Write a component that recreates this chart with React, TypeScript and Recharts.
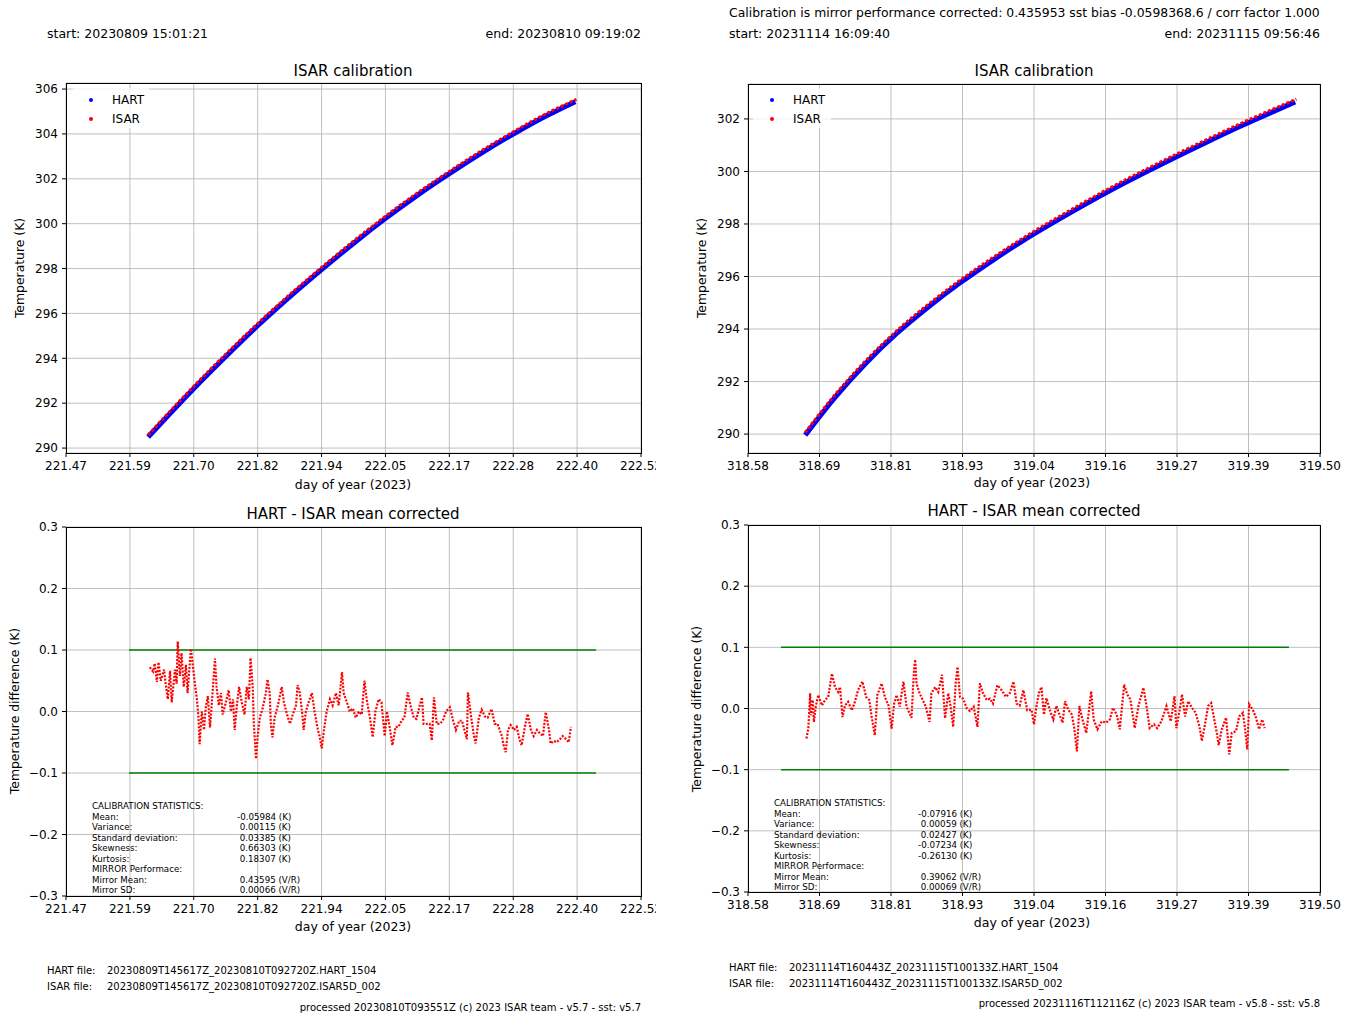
import React from "react";
import { ComposedChart, Line, XAxis, YAxis, CartesianGrid } from "recharts";

const FONT = "'DejaVu Sans', sans-serif";

// ---- left figure (2023-08-09) ----
const leftTicks = [221.47, 221.5867, 221.7033, 221.82, 221.9367, 222.0533, 222.17, 222.2867, 222.4033, 222.52];
const leftTickLabels = ["221.47", "221.59", "221.70", "221.82", "221.94", "222.05", "222.17", "222.28", "222.40", "222.52"];

const leftHartDay = [221.62, 221.66, 221.7, 221.76, 221.82, 221.88, 221.94, 222.0, 222.05, 222.11, 222.17, 222.23, 222.29, 222.35, 222.4];
const leftHartTemp = [290.49, 291.54, 292.57, 294.04, 295.45, 296.77, 298.02, 299.22, 300.17, 301.24, 302.23, 303.17, 304.04, 304.84, 305.44];
const leftIsarDay = [221.62, 221.66, 221.7, 221.76, 221.82, 221.88, 221.94, 222.0, 222.05, 222.11, 222.17, 222.23, 222.29, 222.35, 222.402];
const leftIsarTemp = [290.59, 291.64, 292.67, 294.14, 295.55, 296.87, 298.12, 299.32, 300.27, 301.34, 302.33, 303.27, 304.14, 304.94, 305.54];

const leftDiffDay = [
  221.623, 221.629, 221.632, 221.636, 221.639, 221.643, 221.649, 221.652, 221.656, 221.66,
  221.663, 221.669, 221.672, 221.674, 221.678, 221.681, 221.685, 221.689, 221.692, 221.698,
  221.701, 221.705, 221.709, 221.712, 221.714, 221.718, 221.722, 221.725, 221.729, 221.733,
  221.736, 221.742, 221.745, 221.749, 221.753, 221.756, 221.762, 221.767, 221.771, 221.775,
  221.778, 221.782, 221.786, 221.791, 221.796, 221.8, 221.804, 221.807, 221.811, 221.813,
  221.817, 221.82, 221.824, 221.829, 221.835, 221.838, 221.842, 221.844, 221.847, 221.851,
  221.857, 221.864, 221.868, 221.873, 221.879, 221.884, 221.89, 221.893, 221.897, 221.901,
  221.904, 221.908, 221.913, 221.919, 221.924, 221.93, 221.933, 221.937, 221.941, 221.946,
  221.952, 221.957, 221.963, 221.968, 221.974, 221.977, 221.983, 221.988, 221.994, 221.999,
  222.005, 222.01, 222.015, 222.019, 222.025, 222.03, 222.035, 222.041, 222.046, 222.052,
  222.056, 222.061, 222.066, 222.072, 222.077, 222.083, 222.088, 222.094, 222.099, 222.105,
  222.11, 222.116, 222.12, 222.123, 222.129, 222.134, 222.138, 222.142, 222.147, 222.153,
  222.158, 222.164, 222.171, 222.177, 222.182, 222.188, 222.193, 222.199, 222.202, 222.204,
  222.21, 222.215, 222.218, 222.224, 222.229, 222.235, 222.24, 222.247, 222.253, 222.258,
  222.266, 222.269, 222.273, 222.277, 222.282, 222.288, 222.293, 222.298, 222.302, 222.308,
  222.313, 222.319, 222.324, 222.33, 222.335, 222.341, 222.346, 222.352, 222.355, 222.361,
  222.366, 222.372, 222.377, 222.383, 222.388, 222.392,
];
const leftDiffVal = [
  0.072, 0.065, 0.078, 0.048, 0.08, 0.05, 0.068, 0.045, 0.02, 0.066,
  0.015, 0.068, 0.045, 0.114, 0.058, 0.095, 0.04, 0.076, 0.03, 0.102,
  0.08, 0.048, 0.02, -0.01, -0.053, 0.0, -0.03, 0.005, 0.025, -0.026,
  0.01, 0.086, 0.04, 0.01, 0.03, -0.005, 0.015, 0.035, 0.0, 0.02,
  -0.03, 0.01, 0.04, 0.015, -0.005, 0.04, 0.02, 0.087, 0.04, -0.02,
  -0.077, -0.04, -0.01, 0.005, 0.03, 0.052, 0.03, -0.02, -0.042, -0.01,
  0.01, 0.04, 0.015, -0.003, -0.02, -0.005, 0.01, 0.043, 0.03, 0.0,
  -0.03, 0.0, 0.015, 0.03, 0.0, -0.03, -0.04, -0.06, -0.03, 0.0,
  0.02, 0.01, 0.03, 0.01, 0.064, 0.03, 0.015, 0.0, 0.005, -0.01,
  0.0, -0.005, 0.05, 0.02, -0.01, -0.042, 0.0, 0.02, 0.015, -0.04,
  0.0, -0.025, -0.055, -0.025, -0.025, -0.015, -0.01, 0.031, 0.01, -0.01,
  -0.012, 0.01, 0.023, -0.02, -0.02, -0.02, -0.047, 0.023, -0.02, -0.02,
  -0.015, 0.0, 0.007, -0.015, -0.03, -0.015, -0.015, -0.035, -0.045, 0.031,
  -0.01, -0.04, -0.052, -0.01, 0.003, -0.008, -0.01, 0.004, -0.02, -0.02,
  -0.04, -0.055, -0.066, -0.03, -0.022, -0.03, -0.025, -0.045, -0.055, -0.025,
  -0.004, -0.03, -0.04, -0.03, -0.035, -0.04, -0.001, -0.03, -0.052, -0.048,
  -0.05, -0.045, -0.04, -0.045, -0.05, -0.025,
];
const leftLimitDay = [221.585, 222.438];
const leftStats = ["-0.05984 (K)", " 0.00115 (K)", " 0.03385 (K)", " 0.66303 (K)", " 0.18307 (K)", " 0.43595 (V/R)", " 0.00066 (V/R)"];

// ---- right figure (2023-11-14) ----
const rightTicks = [318.58, 318.695, 318.81, 318.925, 319.04, 319.155, 319.27, 319.385, 319.5];
const rightTickLabels = ["318.58", "318.69", "318.81", "318.93", "319.04", "319.16", "319.27", "319.39", "319.50"];

const rightHartDay = [318.672, 318.72, 318.77, 318.82, 318.87, 318.92, 318.97, 319.02, 319.07, 319.12, 319.17, 319.22, 319.27, 319.32, 319.37, 319.42, 319.46];
const rightHartTemp = [289.96, 291.4, 292.71, 293.85, 294.84, 295.74, 296.56, 297.33, 298.04, 298.72, 299.37, 299.98, 300.57, 301.14, 301.7, 302.23, 302.65];
const rightIsarDay = [318.672, 318.72, 318.77, 318.82, 318.87, 318.92, 318.97, 319.02, 319.07, 319.12, 319.17, 319.22, 319.27, 319.32, 319.37, 319.42, 319.462];
const rightIsarTemp = [290.06, 291.5, 292.81, 293.95, 294.94, 295.84, 296.66, 297.43, 298.14, 298.82, 299.47, 300.08, 300.67, 301.24, 301.8, 302.33, 302.75];

const rightDiffDay = [
  318.674, 318.677, 318.68, 318.681, 318.684, 318.686, 318.689, 318.693, 318.699, 318.704,
  318.709, 318.715, 318.72, 318.725, 318.728, 318.732, 318.736, 318.741, 318.747, 318.752,
  318.757, 318.764, 318.77, 318.775, 318.779, 318.784, 318.788, 318.795, 318.8, 318.806,
  318.811, 318.815, 318.819, 318.824, 318.83, 318.835, 318.843, 318.847, 318.849, 318.851,
  318.856, 318.861, 318.866, 318.872, 318.875, 318.881, 318.886, 318.892, 318.897, 318.902,
  318.906, 318.91, 318.914, 318.917, 318.921, 318.926, 318.932, 318.937, 318.943, 318.949,
  318.953, 318.958, 318.964, 318.969, 318.974, 318.981, 318.988, 318.995, 319.001, 319.007,
  319.012, 319.017, 319.023, 319.029, 319.036, 319.04, 319.044, 319.048, 319.052, 319.056,
  319.06, 319.066, 319.071, 319.076, 319.082, 319.086, 319.09, 319.095, 319.101, 319.105,
  319.109, 319.113, 319.118, 319.124, 319.128, 319.132, 319.136, 319.142, 319.149, 319.156,
  319.162, 319.167, 319.173, 319.178, 319.185, 319.19, 319.195, 319.202, 319.208, 319.216,
  319.221, 319.226, 319.233, 319.238, 319.245, 319.253, 319.26, 319.266, 319.269, 319.274,
  319.278, 319.283, 319.288, 319.294, 319.3, 319.306, 319.31, 319.315, 319.32, 319.325,
  319.329, 319.334, 319.337, 319.342, 319.349, 319.354, 319.358, 319.365, 319.37, 319.376,
  319.379, 319.383, 319.386, 319.392, 319.397, 319.402, 319.407, 319.411,
];
const rightDiffVal = [
  -0.049, -0.033, 0.025, -0.011, 0.014, -0.022, 0.003, 0.022, 0.005, 0.014,
  0.019, 0.057, 0.035, 0.027, 0.035, -0.014, 0.005, 0.011, -0.003, 0.011,
  0.03, 0.044, 0.019, 0.014, -0.014, -0.044, 0.022, 0.041, 0.019, 0.005,
  -0.033, 0.008, 0.022, 0.003, 0.044, 0.003, -0.015, 0.063, 0.08, 0.041,
  0.025, 0.014, 0.003, -0.022, 0.025, 0.035, 0.027, 0.055, -0.016, 0.025,
  0.003, -0.03, 0.041, 0.068, 0.019, 0.016, 0.0, -0.004, 0.003, -0.03,
  0.041, 0.025, 0.014, 0.016, 0.008, 0.038, 0.03, 0.019, 0.025, 0.044,
  0.008, 0.005, 0.03, -0.003, -0.002, -0.026, 0.004, 0.026, 0.035, -0.01,
  0.017, -0.004, -0.018, 0.004, -0.013, -0.023, 0.012, -0.002, -0.01, -0.034,
  -0.07, 0.004, -0.018, -0.04, -0.007, 0.028, -0.018, -0.034, -0.021, -0.023,
  -0.018, 0.001, -0.01, -0.034, 0.039, 0.023, 0.015, -0.032, 0.004, 0.034,
  0.004, -0.032, -0.026, -0.032, -0.021, 0.004, -0.021, 0.02, -0.032, -0.004,
  0.023, -0.013, 0.012, 0.001, -0.007, -0.029, -0.053, -0.026, 0.004, 0.009,
  -0.013, -0.04, -0.06, -0.034, -0.015, -0.075, -0.04, -0.037, -0.013, -0.007,
  -0.029, -0.067, 0.007, -0.002, -0.015, -0.034, -0.018, -0.032,
];
const rightLimitDay = [318.633, 319.45];
const rightStats = ["-0.07916 (K)", " 0.00059 (K)", " 0.02427 (K)", "-0.07234 (K)", "-0.26130 (K)", " 0.39062 (V/R)", " 0.00069 (V/R)"];

const statLabels = ["CALIBRATION STATISTICS:", "Mean:", "Variance:", "Standard deviation:", "Skewness:", "Kurtosis:", "MIRROR Performace:", "Mirror Mean:", "Mirror SD:"];
const statRows = [1, 2, 3, 4, 5, 7, 8];

const tempTicksLeft = [290, 292, 294, 296, 298, 300, 302, 304, 306];
const tempTicksRight = [290, 292, 294, 296, 298, 300, 302];
const diffTicks = [-0.3, -0.2, -0.1, 0, 0.1, 0.2, 0.3];

const pts = (xs: number[], ys: number[]) => xs.map((x, i) => ({ x, y: ys[i] }));
const fmtTemp = (v: number) => String(Math.round(v));
const fmtDiff = (v: number) => (v < 0 ? "\u2212" : "") + Math.abs(v).toFixed(1);

const PAD_L = 60;
const PAD_T = 10;
const PAD_R = 40;
const PAD_B = 30;

function Panel({ rect, xDomain, xTicks, xLabels, yDomain, yTicks, yFmt, children }: any) {
  const [x0, y0, x1, y1] = rect;
  const tickStyle = { fill: "#000", fontSize: 12, fontFamily: FONT };
  return (
    <div style={{ position: "absolute", left: x0 - PAD_L, top: y0 - PAD_T }}>
      <ComposedChart
        width={x1 - x0 + PAD_L + PAD_R}
        height={y1 - y0 + PAD_T + PAD_B}
        margin={{ top: PAD_T, right: PAD_R, bottom: 0, left: 0 }}
      >
        <CartesianGrid stroke="#b0b0b0" strokeWidth={0.8} />
        <XAxis
          type="number"
          dataKey="x"
          domain={xDomain}
          ticks={xTicks}
          interval={0}
          allowDataOverflow
          height={PAD_B}
          tickSize={4}
          tickMargin={4}
          axisLine={false}
          tickLine={{ stroke: "#000" }}
          tick={tickStyle}
          tickFormatter={(v: number) => xLabels[xTicks.indexOf(v)]}
        />
        <YAxis
          type="number"
          dataKey="y"
          domain={yDomain}
          ticks={yTicks}
          interval={0}
          allowDataOverflow
          width={PAD_L}
          tickSize={4}
          tickMargin={4}
          axisLine={false}
          tickLine={{ stroke: "#000" }}
          tick={tickStyle}
          tickFormatter={yFmt}
        />
        {children}
      </ComposedChart>
      <div
        style={{
          position: "absolute",
          left: PAD_L - 0.5,
          top: PAD_T - 0.5,
          width: x1 - x0 + 1,
          height: y1 - y0 + 1,
          border: "1px solid #000",
          boxSizing: "border-box",
          pointerEvents: "none",
        }}
      />
    </div>
  );
}

function Txt({ x, y, size = 12.5, anchor = "start", children }: any) {
  const shift = anchor === "middle" ? "-50%" : anchor === "end" ? "-100%" : "0";
  return (
    <div
      style={{
        position: "absolute",
        left: x,
        top: y,
        transform: `translate(${shift}, -50%)`,
        fontSize: size,
        lineHeight: 1,
        whiteSpace: "pre",
        fontFamily: FONT,
        color: "#000",
      }}
    >
      {children}
    </div>
  );
}

function VTxt({ x, y, children }: any) {
  return (
    <div
      style={{
        position: "absolute",
        left: x,
        top: y,
        transform: "translate(-50%, -50%) rotate(-90deg)",
        fontSize: 12.4,
        lineHeight: 1,
        whiteSpace: "nowrap",
        fontFamily: FONT,
      }}
    >
      {children}
    </div>
  );
}

function LegendBox({ x, y }: any) {
  return (
    <div
      style={{
        position: "absolute",
        left: x,
        top: y,
        width: 78,
        height: 40,
        background: "rgba(255,255,255,0.8)",
        borderRadius: 3,
      }}
    >
      {[
        ["HART", "#0000ff"],
        ["ISAR", "#ff0000"],
      ].map(([name, c], i) => (
        <div key={name} style={{ position: "absolute", left: 0, top: 12 + i * 19 - 6, height: 12, width: 78 }}>
          <div style={{ position: "absolute", left: 17, top: 4, width: 4, height: 4, borderRadius: 2, background: c }} />
          <div style={{ position: "absolute", left: 40, top: 0, fontSize: 12, lineHeight: "12px", fontFamily: FONT }}>{name}</div>
        </div>
      ))}
    </div>
  );
}

function Stats({ x, xv, y, values }: any) {
  return (
    <>
      {statLabels.map((s, i) => (
        <Txt key={s} x={x} y={y + i * 10.5} size={8.7}>
          {s}
        </Txt>
      ))}
      {values.map((v: string, i: number) => (
        <Txt key={i} x={xv} y={y + statRows[i] * 10.5} size={8.7}>
          {v}
        </Txt>
      ))}
    </>
  );
}

function tempSeries(hd: number[], ht: number[], id: number[], it: number[]) {
  return [
    <Line key="h" data={pts(hd, ht)} dataKey="y" stroke="#0000ff" strokeWidth={5} dot={false} isAnimationActive={false} type="monotone" />,
    <Line key="i" data={pts(id, it)} dataKey="y" stroke="#ff0000" strokeWidth={3} strokeDasharray="3 2" dot={false} isAnimationActive={false} type="monotone" />,
  ];
}

function diffSeries(dd: number[], dv: number[], lim: number[]) {
  return [
    <Line key="up" data={pts(lim, [0.1, 0.1])} dataKey="y" stroke="#008000" strokeWidth={1.5} dot={false} isAnimationActive={false} />,
    <Line key="lo" data={pts(lim, [-0.1, -0.1])} dataKey="y" stroke="#008000" strokeWidth={1.5} dot={false} isAnimationActive={false} />,
    <Line key="d" data={pts(dd, dv)} dataKey="y" stroke="#ff0000" strokeWidth={2.2} strokeDasharray="2 1.5" dot={false} isAnimationActive={false} type="linear" />,
  ];
}

export default function App() {
  return (
    <div style={{ position: "absolute", left: 0, top: 0, width: 1355, height: 1017, background: "#fff", overflow: "hidden", fontFamily: FONT }}>
      {/* left figure */}
      <div style={{ position: "absolute", left: 0, top: 0, width: 656, height: 1017, overflow: "hidden" }}>
        <Txt x={47} y={34}>start: 20230809 15:01:21</Txt>
        <Txt x={641} y={34} anchor="end">end: 20230810 09:19:02</Txt>
        <Txt x={353} y={71} size={15} anchor="middle">ISAR calibration</Txt>
        <Panel rect={[66, 83, 641, 453]} xDomain={[221.47, 222.52]} xTicks={leftTicks} xLabels={leftTickLabels} yDomain={[289.78, 306.27]} yTicks={tempTicksLeft} yFmt={fmtTemp}>
          {tempSeries(leftHartDay, leftHartTemp, leftIsarDay, leftIsarTemp)}
        </Panel>
        <LegendBox x={72} y={88} />
        <VTxt x={20} y={268}>Temperature (K)</VTxt>
        <Txt x={353} y={485} anchor="middle">day of year (2023)</Txt>

        <Txt x={353} y={514} size={15} anchor="middle">HART - ISAR mean corrected</Txt>
        <Panel rect={[66, 527, 641, 896]} xDomain={[221.47, 222.52]} xTicks={leftTicks} xLabels={leftTickLabels} yDomain={[-0.3, 0.3]} yTicks={diffTicks} yFmt={fmtDiff}>
          {diffSeries(leftDiffDay, leftDiffVal, leftLimitDay)}
        </Panel>
        <Stats x={92} xv={237} y={806} values={leftStats} />
        <VTxt x={15} y={711}>Temperature difference (K)</VTxt>
        <Txt x={353} y={927} anchor="middle">day of year (2023)</Txt>

        <Txt x={47} y={971} size={10}>HART file:</Txt>
        <Txt x={107} y={971} size={10}>20230809T145617Z_20230810T092720Z.HART_1504</Txt>
        <Txt x={47} y={987} size={10}>ISAR file:</Txt>
        <Txt x={107} y={987} size={10}>20230809T145617Z_20230810T092720Z.ISAR5D_002</Txt>
        <Txt x={641} y={1008} size={10} anchor="end">processed 20230810T093551Z (c) 2023 ISAR team - v5.7 - sst: v5.7</Txt>
      </div>

      {/* right figure */}
      <Txt x={729} y={13} size={12.4}>Calibration is mirror performance corrected: 0.435953 sst bias -0.0598368.6 / corr factor 1.000</Txt>
      <Txt x={729} y={34}>start: 20231114 16:09:40</Txt>
      <Txt x={1320} y={34} anchor="end">end: 20231115 09:56:46</Txt>
      <Txt x={1034} y={71} size={15} anchor="middle">ISAR calibration</Txt>
      <Panel rect={[748, 84, 1320, 453]} xDomain={[318.58, 319.5]} xTicks={rightTicks} xLabels={rightTickLabels} yDomain={[289.28, 303.33]} yTicks={tempTicksRight} yFmt={fmtTemp}>
        {tempSeries(rightHartDay, rightHartTemp, rightIsarDay, rightIsarTemp)}
      </Panel>
      <LegendBox x={753} y={88} />
      <VTxt x={702} y={268}>Temperature (K)</VTxt>
      <Txt x={1032} y={483} anchor="middle">day of year (2023)</Txt>

      <Txt x={1034} y={511} size={15} anchor="middle">HART - ISAR mean corrected</Txt>
      <Panel rect={[748, 525, 1320, 892]} xDomain={[318.58, 319.5]} xTicks={rightTicks} xLabels={rightTickLabels} yDomain={[-0.3, 0.3]} yTicks={diffTicks} yFmt={fmtDiff}>
        {diffSeries(rightDiffDay, rightDiffVal, rightLimitDay)}
      </Panel>
      <Stats x={774} xv={918} y={803} values={rightStats} />
      <VTxt x={697} y={709}>Temperature difference (K)</VTxt>
      <Txt x={1032} y={923} anchor="middle">day of year (2023)</Txt>

      <Txt x={729} y={968} size={10}>HART file:</Txt>
      <Txt x={789} y={968} size={10}>20231114T160443Z_20231115T100133Z.HART_1504</Txt>
      <Txt x={729} y={984} size={10}>ISAR file:</Txt>
      <Txt x={789} y={984} size={10}>20231114T160443Z_20231115T100133Z.ISAR5D_002</Txt>
      <Txt x={1320} y={1004} size={10} anchor="end">processed 20231116T112116Z (c) 2023 ISAR team - v5.8 - sst: v5.8</Txt>
    </div>
  );
}
